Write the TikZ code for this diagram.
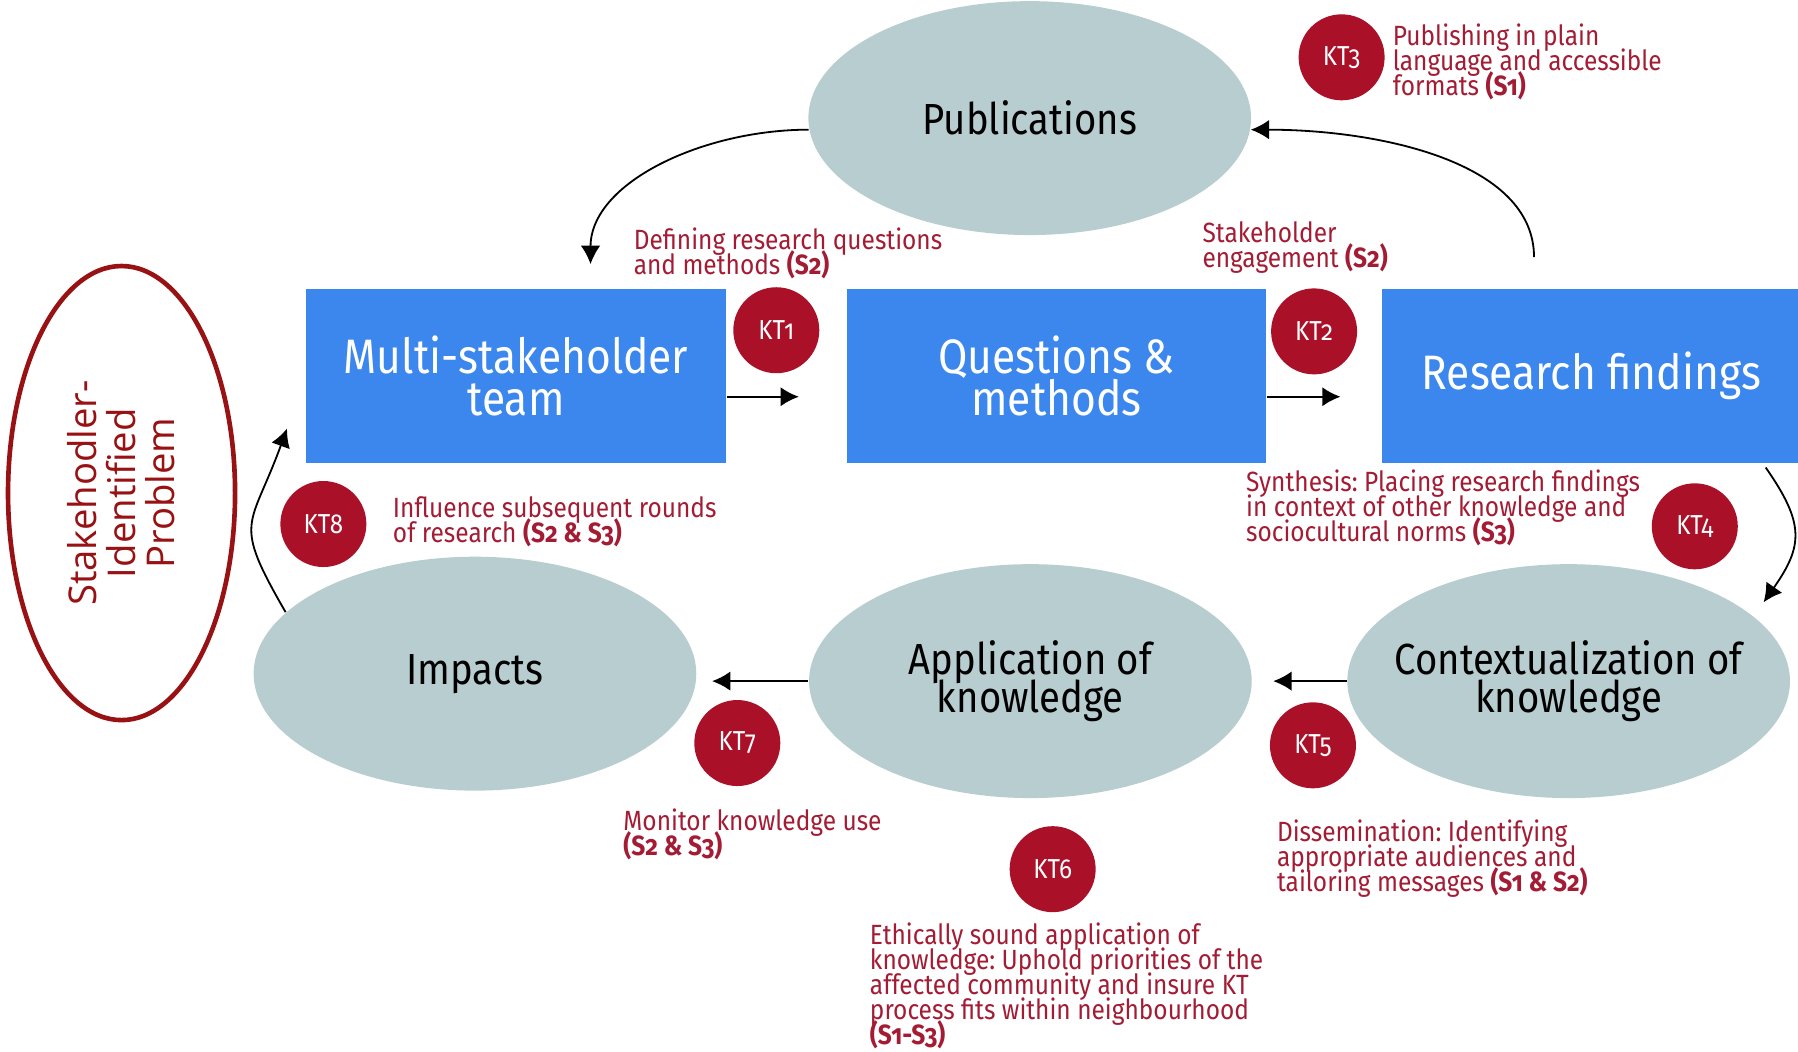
\documentclass[tikz,border=0pt]{standalone}
\usepackage{fontspec}
\usepackage{xcolor}
\usepackage{tikz}
\usetikzlibrary{shapes.geometric, arrows.meta, positioning}

\setmainfont{Fira Sans}[FakeStretch=0.88, Numbers=OldStyle]
\newfontfamily\probfont{Open Sans}

\definecolor{stepblue}{RGB}{59,135,237}
\definecolor{stagefill}{RGB}{183,205,208}
\definecolor{ktred}{RGB}{170,17,40}
\definecolor{notered}{RGB}{163,28,52}
\definecolor{probred}{RGB}{152,18,20}

% keep multi-line node text on its baselineskip
\setlength{\lineskiplimit}{-10pt}
\frenchspacing

\begin{document}
\begin{tikzpicture}[
    x=0.1mm, y=0.1mm,
    box/.style={rectangle, fill=stepblue, text=white, minimum width=36.6mm, minimum height=15.2mm, inner sep=0pt, align=center, font=\fontsize{12pt}{10.5pt}\selectfont},
    stage/.style={ellipse, fill=stagefill, minimum width=38.6mm, minimum height=20.4mm, inner xsep=-6mm, inner ysep=0pt, align=center, font=\fontsize{10.8pt}{9.6pt}\selectfont},
    kt/.style={circle, fill=ktred, text=white, minimum size=7.5mm, inner sep=0pt, font=\fontsize{6.8pt}{7pt}\selectfont},
    note/.style={anchor=north west, inner sep=0pt, align=left, text=notered, font=\fontsize{6.9pt}{6.2pt}\selectfont},
    arrow/.style={->, >={Latex[length=1.6mm, width=1.7mm]}, line width=0.6pt},
    curved/.style={arrow, line width=0.45pt}
]
\useasboundingbox (0,0) rectangle (1568,917);

% Research steps
\node[box] (team) at (450,589) {Multi-stakeholder\\team};
\node[box, right=10.4mm of team] (questions) {Questions \&\\methods};
\node[box, right=9.9mm of questions] (findings) {Research findings};

% Knowledge stages
\node[stage] (pub) at (898,814) {Publications};
\node[stage] (ctx) at (1368,323) {Contextualization of\\knowledge};
\node[stage, left=8.2mm of ctx] (app) {Application of\\knowledge};
\node[stage, left=9.7mm of app, yshift=0.65mm] (imp) {Impacts};

% Starting point
\node[ellipse, draw=probred, line width=1.15pt, fill=white, minimum width=39.6mm, minimum height=19.8mm,
      rotate=90, inner sep=0pt, align=center, text=probred,
      font=\probfont\fontsize{9.5pt}{9.7pt}\selectfont] (problem) at (106,487) {Stakehodler-\\Identified\\Problem};

% KT markers
\node[kt] (kt1) at (677,629) {KT1};
\node[kt] (kt2) at (1146,628) {KT2};
\node[kt] (kt3) at (1170,867) {KT3};
\node[kt] (kt4) at (1478,458) {KT4};
\node[kt] (kt5) at (1145,267) {KT5};
\node[kt] (kt6) at (918,159) {KT6};
\node[kt] (kt7) at (643,269) {KT7};
\node[kt] (kt8) at (282,460) {KT8};

% KT descriptions
\node[note] (def) at (552,719) {Defining research questions\\and methods \textbf{(S2)}};
\node[note] (eng) at (1048,724) {Stakeholder\\engagement \textbf{(S2)}};
\node[note] (plain) at (1214,897) {Publishing in plain\\language and accessible\\formats \textbf{(S1)}};
\node[note] (syn) at (1086,508) {Synthesis: Placing research findings\\in context of other knowledge and\\sociocultural norms \textbf{(S3)}};
\node[note] (infl) at (342,485) {Influence subsequent rounds\\of research \textbf{(S2 \& S3)}};
\node[note] (mon) at (543,212) {Monitor knowledge use\\\textbf{(S2 \& S3)}};
\node[note] (dis) at (1113,203) {Dissemination: Identifying\\appropriate audiences and\\tailoring messages \textbf{(S1 \& S2)}};
\node[note] (eth) at (758,113) {Ethically sound application of\\knowledge: Uphold priorities of the\\affected community and insure KT\\process fits within neighbourhood\\\textbf{(S1-S3)}};

% Arrows
\draw[arrow, shorten >=4.1mm] ([yshift=-1.8mm]team.east) -- ([yshift=-1.8mm]questions.west);
\draw[arrow, shorten >=3.5mm] ([yshift=-1.8mm]questions.east) -- ([yshift=-1.8mm]findings.west);
\draw[curved, shorten <=2.7mm] ([xshift=-5mm]findings.north) to[out=90, in=0] (pub.-3);
\draw[curved, shorten >=2.1mm] (pub.183) to[out=180, in=90] ([xshift=6.5mm]team.north);
\draw[curved] ([xshift=15.2mm, yshift=-0.3mm]findings.south) to[out=-55, in=55, looseness=1.3] ([xshift=17mm, yshift=-3.4mm]ctx.north);
\draw[arrow, shorten >=1.8mm] (ctx.west) -- (app.east);
\draw[arrow, shorten >=1.3mm] (app.west) -- (app.west -| imp.east);
\draw[curved] (imp.162) to[out=120, in=-110, looseness=1.5] ([xshift=-1.6mm, yshift=3.1mm]team.south west);

\end{tikzpicture}
\end{document}
